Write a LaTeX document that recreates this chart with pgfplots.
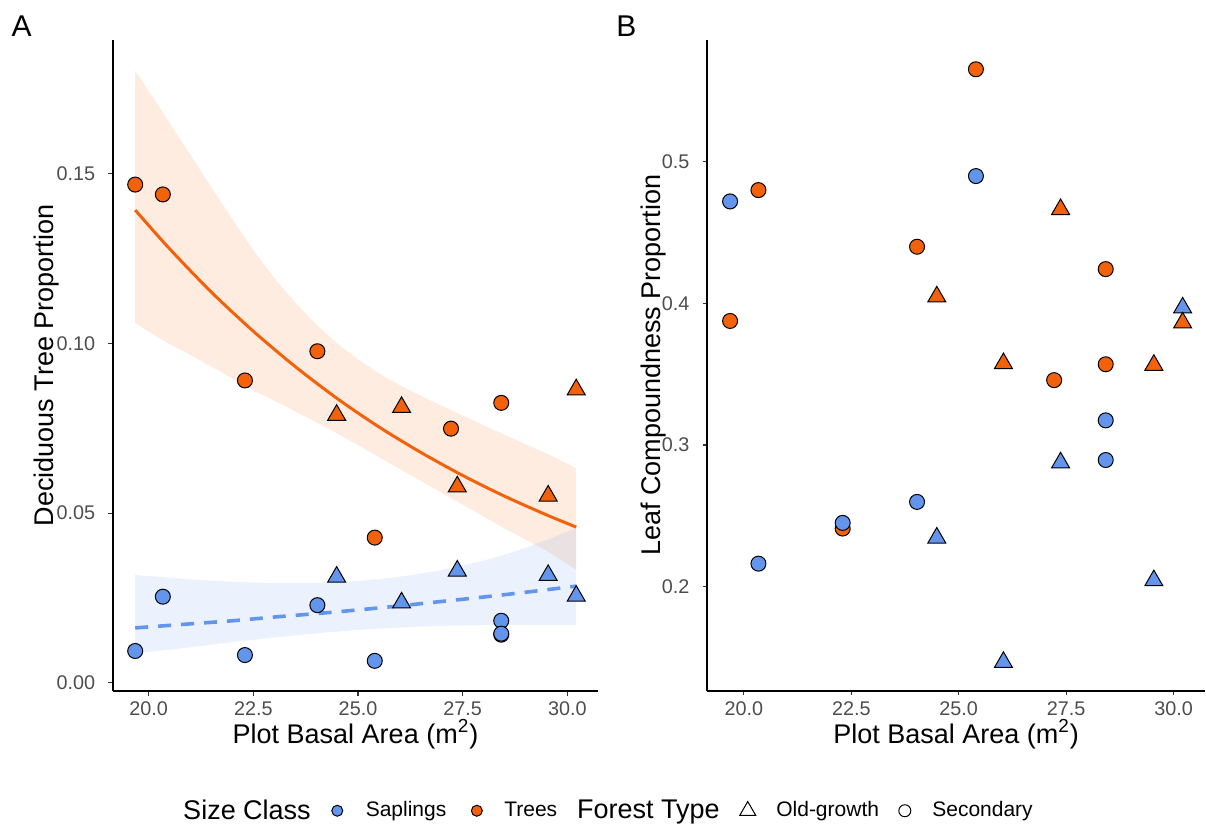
\documentclass[border=0pt]{standalone}
\usepackage{fontspec}
\setmainfont{Liberation Sans}
\usepackage{pgfplots}
\pgfplotsset{compat=1.18}

\definecolor{sap}{HTML}{6495ED}
\definecolor{tre}{HTML}{F3620A}
\definecolor{tickgray}{HTML}{4D4D4D}

\pgfplotsset{
  panel/.style={
    scale only axis, height=325.35pt,
    axis x line*=bottom, axis y line*=left,
    axis line style={line width=0.9pt, black},
    xmin=19.15, xmax=30.73,
    xtick={20,22.5,25,27.5,30},
    tick align=outside, major tick length=2.4pt,
    tick style={line width=0.6pt, color=black!80},
    tick label style={font=\fontsize{9.9}{11}\selectfont, text=tickgray},
    y tick label style={xshift=-3pt},
    x tick label style={yshift=0.5pt, /pgf/number format/.cd, fixed, fixed zerofill, precision=1},
    /pgf/number format/assume math mode=true,
    xlabel={Plot Basal Area (m\textsuperscript{2})},
    label style={font=\fontsize{13.5}{15}\selectfont},
    xlabel style={at={(axis description cs:0.5,-0.0808)}, anchor=base},
    clip=false,
  },
  circ/.style={only marks, mark=*, mark size=3.75pt,
    mark options={draw=black, line width=0.5pt, fill=#1}, forget plot},
  tri/.style={only marks, mark=triangle*, mark size=5.2pt,
    mark options={draw=black, line width=0.5pt, fill=#1}, forget plot},
}
\newcommand{\legtitle}[1]{\fontsize{13.5}{15}\selectfont #1}

\begin{document}
\begin{tikzpicture}
\path[use as bounding box] (0pt,0pt) rectangle (603pt,412.5pt);

\node[anchor=base west, inner sep=0pt, font=\fontsize{15}{17}\selectfont] at (5.6pt,394.3pt) {A};
\node[anchor=base west, inner sep=0pt, font=\fontsize{15}{17}\selectfont] at (308pt,394.3pt) {B};

% Panel A: deciduous proportion with fitted trends
\begin{axis}[panel, at={(56.5pt,67.15pt)}, anchor=south west, width=242.5pt,
  ymin=-0.0023, ymax=0.1894, ytick={0,0.05,0.10,0.15},
  y tick label style={/pgf/number format/.cd, fixed, fixed zerofill, precision=2},
  ylabel={Deciduous Tree Proportion},
  ylabel style={at={(axis description cs:-0.1231,0.5)}, anchor=base},
  legend columns=6,
  legend image code/.code={\draw[#1] plot coordinates {(0pt,0pt)};},
  legend style={at={(axis description cs:1.0206,-0.1845)}, anchor=center,
    draw=none, fill=none, font=\fontsize{10.5}{12}\selectfont,
    nodes={inner sep=0pt},
    /tikz/every odd column/.style={column sep=0pt},
    /tikz/every even column/.style={column sep=0pt}},
]
% confidence bands (upper edge left to right, lower edge back)
\addplot[draw=none, fill=tre, fill opacity=0.12, forget plot] coordinates {
  (19.68,0.1803) (20.0,0.1744) (20.5,0.1650) (21.0,0.1555) (21.5,0.1460)
  (22.0,0.1366) (22.5,0.1275) (23.0,0.1193) (23.5,0.1120) (24.0,0.1056)
  (24.5,0.1000) (25.0,0.0953) (25.5,0.0912) (26.0,0.0877) (26.5,0.0846)
  (27.0,0.0816) (27.5,0.0787) (28.0,0.0759) (28.5,0.0731) (29.0,0.0703)
  (29.5,0.0676) (30.0,0.0645) (30.21,0.0632)
  (30.21,0.0333) (30.0,0.0350) (29.5,0.0390) (29.0,0.0422) (28.5,0.0455)
  (28.0,0.0490) (27.5,0.0525) (27.0,0.0560) (26.5,0.0595) (26.0,0.0630)
  (25.5,0.0665) (25.0,0.0700) (24.5,0.0735) (24.0,0.0768) (23.5,0.0800)
  (23.0,0.0831) (22.5,0.0862) (22.0,0.0897) (21.5,0.0932) (21.0,0.0966)
  (20.5,0.0998) (20.0,0.1035) (19.68,0.1061)} -- cycle;
\addplot[draw=none, fill=sap, fill opacity=0.13, forget plot] coordinates {
  (19.68,0.0318) (20.5,0.0310) (21,0.0305) (21.5,0.0301) (22,0.0298)
  (22.5,0.0296) (23,0.0294) (23.5,0.0294) (24,0.0295) (24.5,0.0297)
  (25,0.0300) (25.5,0.0306) (26,0.0313) (26.5,0.0322) (27,0.0333)
  (27.5,0.0346) (28,0.0360) (28.5,0.0378) (29,0.0398) (29.5,0.0421)
  (30,0.0446) (30.21,0.0456)
  (30.21,0.0170) (29.5,0.0171) (29,0.0171) (28.5,0.0171) (28,0.0170)
  (27.5,0.0169) (27,0.0168) (26.5,0.0166) (26,0.0163) (25.5,0.0160)
  (25,0.0156) (24.5,0.0151) (24,0.0146) (23.5,0.0140) (23,0.0134)
  (22.5,0.0127) (22,0.0120) (21.5,0.0113) (21,0.0105) (20.5,0.0098)
  (19.68,0.0087)} -- cycle;
% fitted lines
\addplot[tre, line width=1.5pt, smooth, forget plot] coordinates {
  (19.68,0.1393) (20.5,0.1279) (21.5,0.1151) (22.5,0.1036) (23.5,0.0932)
  (24.5,0.0838) (25.5,0.0754) (26.5,0.0679) (27.5,0.0611) (28.5,0.0550)
  (29.5,0.0495) (30.21,0.0459)};
\addplot[sap, line width=1.8pt, dash pattern=on 6.5pt off 5pt, smooth, forget plot] coordinates {
  (19.68,0.0162) (21,0.0174) (22,0.0183) (23,0.0194) (24,0.0204) (25,0.0215)
  (26,0.0227) (27,0.0240) (28,0.0253) (29,0.0267) (30.21,0.0285)};
% observations
\addplot[circ=tre] coordinates {(19.68,0.1468) (20.34,0.1439) (22.30,0.0891)
  (24.03,0.0977) (25.40,0.0428) (27.22,0.0749) (28.42,0.0825)};
\addplot[circ=sap] coordinates {(19.68,0.0094) (20.34,0.0254) (22.30,0.0082)
  (24.03,0.0229) (25.40,0.0065) (28.42,0.0183) (28.42,0.0142) (28.42,0.0145)};
\addplot[tri=sap] coordinates {(24.49,0.0312) (26.04,0.0236) (27.37,0.0330)
  (29.54,0.0317) (30.21,0.0256)};
\addplot[tri=tre] coordinates {(24.49,0.0789) (26.04,0.0812) (27.37,0.0578)
  (29.54,0.0551) (30.21,0.0864)};
% legend
\addlegendimage{empty legend}
\addlegendentry{\legtitle{Size Class}\hspace*{10.5pt}}
\addlegendimage{mark=*, mark size=2.75pt, mark options={draw=black, line width=0.5pt, fill=sap}}
\addlegendentry{\hspace*{11.5pt}Saplings\hspace*{12.5pt}}
\addlegendimage{mark=*, mark size=2.75pt, mark options={draw=black, line width=0.5pt, fill=tre}}
\addlegendentry{\hspace*{11pt}Trees\hspace*{9.9pt}}
\addlegendimage{empty legend}
\addlegendentry{\legtitle{Forest Type}\hspace*{10.1pt}}
\addlegendimage{mark=triangle, mark size=4.6pt, mark options={draw=black, line width=0.5pt}}
\addlegendentry{\hspace*{10.3pt}Old-growth\hspace*{9.9pt}}
\addlegendimage{mark=o, mark size=3pt, mark options={draw=black, line width=0.5pt}}
\addlegendentry{\hspace*{10.75pt}Secondary}
\end{axis}

% Panel B: leaf compoundness
\begin{axis}[panel, at={(353.65pt,67.15pt)}, anchor=south west, width=248.85pt,
  ymin=0.1265, ymax=0.586, ytick={0.2,0.3,0.4,0.5},
  y tick label style={/pgf/number format/.cd, fixed, fixed zerofill, precision=1},
  ylabel={Leaf Compoundness Proportion},
  ylabel style={at={(axis description cs:-0.0950,0.5)}, anchor=base},
]
\addplot[circ=tre] coordinates {(19.68,0.3876) (20.34,0.4800) (22.30,0.2410)
  (24.03,0.4400) (25.40,0.5653) (27.22,0.3458) (28.42,0.4242) (28.42,0.3570)};
\addplot[circ=sap] coordinates {(19.68,0.4720) (20.34,0.2162) (22.30,0.2450)
  (24.03,0.2598) (25.40,0.4899) (28.42,0.3174) (28.42,0.2894)};
\addplot[tri=sap] coordinates {(24.49,0.2344) (26.04,0.1466) (27.37,0.2875)
  (29.54,0.2043) (30.21,0.3969)};
\addplot[tri=tre] coordinates {(24.49,0.4047) (26.04,0.3576) (27.37,0.4664)
  (29.54,0.3564) (30.21,0.3863)};
\end{axis}
\end{tikzpicture}
\end{document}
